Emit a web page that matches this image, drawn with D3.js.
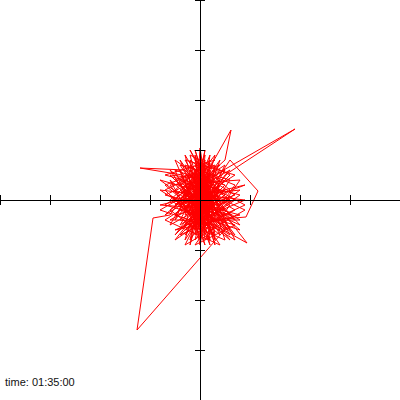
<!DOCTYPE html>
<html><head><meta charset="utf-8">
<script src="https://cdn.jsdelivr.net/npm/d3@7"></script>
<style>html,body{margin:0;padding:0;background:#fff;}svg{display:block;}</style>
</head><body>
<svg id="c" width="400" height="400"></svg>
<script>
const tickValues = [-40,-30,-20,-10,0,10,20,30,40];
const timeLabel = "time: 01:35:00";
const positions = [
[0,0],[2,5],[-1,-3],[3,4],[-2,8],[1,-4],[-3,2],[4,-2],[0,9],[2,-6],
[-4,3],[1,7],[-1,-7],[3,1],[-5,-1],[2,6],[0,-5],[-3,5],[5,3],[-2,-4],
[1,10],[-1,-2],[4,6],[-6,-2],[2,-8],[0,4],[3,-3],[-3,-6],[6,2],[-1,8],
[2,-1],[-4,-5],[1,3],[5,-6],[-2,1],[0,-9],[3,7],[-5,4],[4,-4],[-1,6],
[7,1],[-3,-3],[2,9],[0,-3],[-6,1],[3,-7],[1,5],[-2,-8],[6,4],[-4,7],
[2,-2],[0,10.4],[-1,-5],[4,2],[-3,0],[8,-5],[-2,6],[3,-8],[1,2],[-7,-3],
[5,8],[6.2,14],[0,3],[-4,-4],[3,-5],[9.4,-8.6],[5,-3],[-1,7],[2,0],[-5,-7],
[4,5],[6,8],[11.6,1.8],[9.2,-3.4],[2,-4],[-2,4],[1,-6],[-3,9],[3,-1],[-1,-4],
[5,5],[19,14.2],[3,5],[-2,-2],[4,-7],[-1,3],[2,-9],[-4,6],[1,-1],[7,-4],
[-3,6],[-12,6.4],[-3.5,5],[0,-6],[2,8],[-5,2],[3,-2],[-1,9],[1,-8],[6,-1],
[-2,3],[-6,-3],[-9.4,-3.6],[-12.6,-26],[5.6,-5.2],[1,4],[-3,-2],[4,8],[-1,-6],[2,3],
[-4,-1],[0,7],[5,-8],[-2,-5],[3,6],[-5,-4],[1,9],[0,-2],[-3,7],[7,3],
[-1,-8],[2,4],[-6,5],[4,-5],[0,2],[-2,-9],[3,9],[-4,0],[6,-3],[1,-3],
[-1,5],[-7,2],[2,-7],[0,8],[4,0],[-3,-7],[5,6],[-2,2],[1,-9],[-5,6],
[3,3],[0,-4],[8,2],[-1,1],[2,-5],[-4,8],[6,-6],[-2,0],[1,6],[-3,-8],
[4,3],[0,-7],[-6,4],[3,-4],[-1,10],[2,1],[-4,-6],[5,1],[-2,7],[1,-5],
[7,-2],[-3,4],[0,-8],[2,7],[-5,0],[4,-3],[-1,4],[3,-9],[-2,9],[6,5],
[0,-1],[-4,2],[2,-3],[-1,6],[5,-4],[-3,-5],[1,8],[0,-6],[4,4],[-2,-3],
[3,0],[-6,-5],[1,7],[-1,-1],[2,5],[-7,1],[8,-3],[-5,-6],[9,0],[-8,2],
[6,-7],[-3,8],[7,5],[-7,-4],[4,-9],[-6,6],[8,-6],[-4,-2],[9,3],[-8,-1],
[5,-2],[-2,10],[7,-8],[-6,0],[3,8],[-7,5],[8,1],[-5,-8],[6,6],[-8,-2],
[4,-6],[-4,4],[9,-2],[-3,-9],[5,7],[-7,-1],[7,-5],[-1,-9],[8,4],[-6,3],
[2,-8],[-5,8],[6,0],[-8,4],[7,-7],[-2,5],[9,-1],[-4,-7],[5,2],[-6,-4],
[8,-4],[-3,3],[6,-8],[-7,3],[4,7],[-5,-3],[7,0],[-2,-6],[3,2],[0,0]
];

const W = 400, H = 400;
const svg = d3.select("#c");
const x = d3.scaleLinear().domain([-40,40]).range([0,W]);
const y = d3.scaleLinear().domain([-40,40]).range([H,0]);

const line = d3.line().x(d => x(d[0])).y(d => y(d[1]));
svg.append("path").datum(positions)
  .attr("d", line)
  .attr("fill","none")
  .attr("stroke","#ff0000")
  .attr("stroke-width",1)
  .attr("stroke-linejoin","miter");

const xAxis = d3.axisBottom(x).tickValues(tickValues).tickSize(10).tickFormat("");
const gx = svg.append("g").attr("transform",`translate(0,${y(0)-5})`).call(xAxis);
gx.select(".domain").remove();
svg.append("line").attr("x1",0).attr("x2",W).attr("y1",y(0)+0.5).attr("y2",y(0)+0.5)
  .attr("stroke","#000").attr("stroke-width",1);

const yAxis = d3.axisRight(y).tickValues(tickValues).tickSize(10).tickFormat("");
const gy = svg.append("g").attr("transform",`translate(${x(0)-5},0)`).call(yAxis);
gy.select(".domain").remove();
svg.append("line").attr("y1",0).attr("y2",H).attr("x1",x(0)+0.5).attr("x2",x(0)+0.5)
  .attr("stroke","#000").attr("stroke-width",1);

svg.selectAll(".tick line").attr("stroke","#000");

svg.append("text").attr("x",5).attr("y",386)
  .attr("font-family","'Liberation Sans', Arial, sans-serif")
  .attr("font-size",11).attr("fill","#111")
  .text(timeLabel);
</script>
</body></html>
